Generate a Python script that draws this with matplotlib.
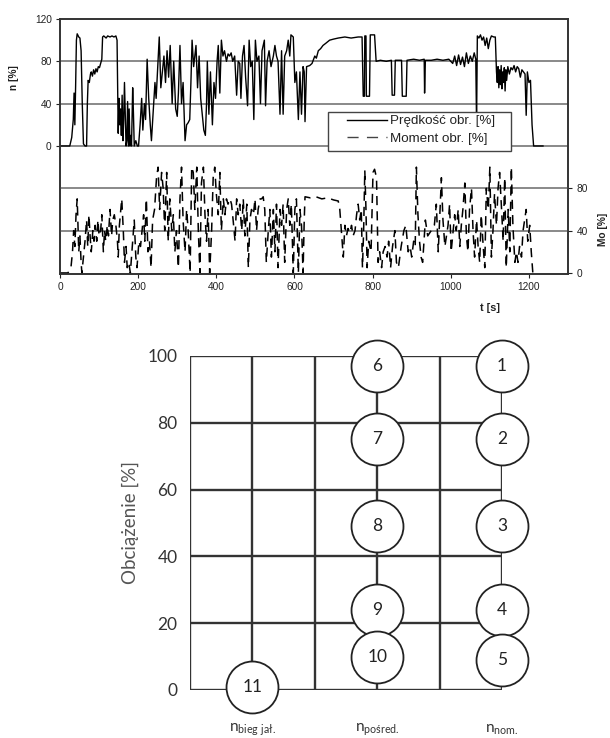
import matplotlib
matplotlib.use('Agg')
import matplotlib.pyplot as plt
from matplotlib.lines import Line2D
from matplotlib.patches import Rectangle

plt.rcParams['font.family'] = ['Liberation Sans', 'DejaVu Sans']

# --- przebieg testu: prędkość obrotowa n [%] w czasie t [s]
t_n = [0, 25, 30, 34, 36, 38, 40, 42, 44, 48, 51, 54, 57, 60, 64, 68, 70, 72, 75, 78,
       80, 83, 86, 89, 92, 95, 98, 101, 104, 107, 109, 112, 118, 122, 128, 133, 138, 143, 146, 148,
       149, 151, 153, 155, 157, 159, 161, 163, 165, 167, 169, 171, 173, 175, 177, 179, 181, 183, 186, 188,
       190, 194, 198, 201, 205, 209, 212, 216, 219, 223, 227, 231, 234, 238, 243, 246, 250, 254, 258, 262,
       266, 270, 274, 278, 282, 287, 291, 296, 300, 303, 307, 311, 315, 320, 324, 328, 332, 335, 338, 342,
       345, 348, 352, 356, 360, 364, 368, 372, 375, 377, 381, 385, 390, 394, 398, 402, 405, 409, 413, 417,
       421, 426, 430, 434, 438, 442, 447, 452, 456, 460, 463, 467, 471, 475, 480, 484, 488, 492, 496, 500,
       504, 509, 513, 517, 523, 526, 530, 535, 540, 546, 550, 554, 558, 563, 567, 571, 575, 580, 584, 588,
       591, 597, 601, 605, 610, 614, 618, 622, 625, 627, 631, 639, 645, 652, 656, 661, 667, 673, 680, 690,
       700, 712, 729, 745, 763, 773, 776, 779, 780, 783, 784, 792, 794, 805, 809, 820, 835, 848, 850, 856,
       858, 874, 876, 886, 888, 905, 920, 932, 933, 935, 950, 965, 980, 995, 1005, 1010, 1015, 1020, 1025, 1030,
       1035, 1040, 1045, 1050, 1055, 1060, 1064, 1066, 1068, 1072, 1076, 1080, 1084, 1088, 1092, 1096, 1100, 1104, 1110, 1114,
       1117, 1119, 1121, 1123, 1125, 1127, 1129, 1131, 1133, 1135, 1137, 1139, 1141, 1143, 1146, 1150, 1154, 1158, 1162, 1166,
       1170, 1174, 1178, 1182, 1186, 1190, 1193, 1196, 1200, 1204, 1208, 1212, 1236]
n_pct = [0, 0, 8, 25, 50, 20, 57, 100, 106, 103, 102, 90, 40, 2, 0, 0, 40, 62, 60, 68,
         70, 66, 72, 68, 73, 70, 75, 74, 78, 82, 103, 104, 102, 104, 103, 104, 103, 104, 100, 40,
         12, 45, 20, 35, 10, 48, 5, 25, 60, 30, 0, 5, 42, 0, 35, 0, 10, 0, 55, 30,
         0, 5, 0, 0, 20, 45, 15, 40, 25, 82, 45, 20, 5, 30, 60, 45, 75, 103, 55, 70,
         85, 60, 90, 65, 95, 40, 80, 35, 28, 50, 95, 40, 60, 5, 20, 22, 25, 60, 100, 75,
         85, 95, 55, 85, 45, 30, 15, 10, 40, 80, 30, 70, 20, 60, 45, 80, 95, 50, 100, 85,
         90, 80, 87, 85, 88, 80, 85, 48, 80, 78, 45, 85, 95, 65, 38, 100, 75, 80, 25, 100,
         80, 85, 40, 90, 100, 38, 80, 90, 75, 85, 95, 85, 80, 30, 90, 30, 85, 90, 100, 85,
         105, 103, 60, 70, 25, 70, 30, 75, 70, 23, 75, 76, 78, 85, 83, 90, 92, 95, 97, 100,
         101, 102, 103, 102, 103, 103, 47, 47, 104, 104, 47, 47, 105, 105, 80, 81, 80, 81, 48, 48,
         81, 81, 47, 47, 81, 82, 81, 82, 50, 81, 81, 82, 81, 82, 78, 85, 76, 86, 77, 84,
         75, 88, 78, 85, 80, 88, 82, 20, 104, 102, 105, 100, 103, 95, 102, 92, 100, 104, 103, 103,
         70, 60, 75, 55, 72, 58, 76, 54, 70, 60, 74, 52, 72, 62, 75, 68, 74, 72, 76, 70,
         75, 73, 65, 72, 70, 68, 29, 70, 60, 62, 20, 0, 0]

# --- moment obrotowy Mo [%]
t_mo = [0, 20, 24, 28, 32, 35, 38, 41, 44, 46, 48, 51, 54, 56, 60, 64, 68, 71, 74, 77,
        80, 84, 87, 90, 94, 97, 100, 104, 107, 111, 114, 117, 121, 124, 128, 132, 135, 139, 143, 147,
        149, 152, 158, 162, 165, 169, 172, 176, 180, 184, 190, 194, 197, 202, 206, 210, 214, 217, 221, 225,
        229, 233, 237, 242, 247, 251, 255, 260, 264, 268, 273, 277, 281, 286, 290, 294, 298, 303, 307, 311,
        315, 320, 324, 328, 333, 337, 341, 345, 350, 354, 358, 362, 367, 371, 375, 379, 383, 388, 392, 396,
        400, 405, 409, 413, 418, 422, 426, 430, 435, 439, 443, 448, 452, 456, 460, 465, 469, 473, 478, 482,
        486, 490, 495, 499, 503, 507, 512, 516, 520, 524, 528, 533, 537, 541, 546, 550, 554, 558, 563, 567,
        571, 575, 580, 584, 588, 592, 597, 601, 605, 610, 614, 618, 622, 625, 627, 640, 655, 670, 685, 700,
        712, 716, 720, 725, 729, 733, 737, 742, 746, 750, 755, 759, 763, 767, 771, 774, 777, 780, 783, 786,
        790, 796, 801, 805, 810, 814, 818, 823, 827, 832, 837, 841, 846, 851, 857, 861, 866, 873, 880, 885,
        891, 896, 900, 905, 909, 912, 916, 920, 924, 928, 935, 941, 950, 958, 963, 968, 976, 980, 985, 993,
        997, 1001, 1010, 1014, 1019, 1023, 1027, 1031, 1036, 1040, 1044, 1048, 1053, 1057, 1061, 1066, 1070, 1074, 1078, 1083,
        1087, 1091, 1096, 1100, 1104, 1108, 1112, 1117, 1121, 1125, 1130, 1134, 1138, 1142, 1147, 1151, 1155, 1159, 1164, 1168,
        1172, 1176, 1181, 1185, 1189, 1193, 1197, 1202, 1206, 1210]
mo_pct = [0, 0, 2, 5, 20, 40, 25, 55, 70, 45, 20, 35, 10, 0, 15, 30, 50, 25, 55, 35,
          20, 40, 30, 45, 30, 50, 35, 40, 55, 20, 40, 30, 45, 35, 60, 35, 50, 55, 45, 30,
          15, 45, 70, 40, 10, 25, 5, 10, 0, 20, 50, 15, 5, 30, 25, 40, 55, 30, 70, 20,
          30, 5, 50, 60, 90, 100, 60, 95, 80, 40, 95, 30, 70, 40, 55, 20, 40, 5, 70, 100,
          50, 20, 60, 40, 0, 100, 95, 60, 100, 40, 0, 85, 100, 55, 30, 60, 0, 40, 90, 100,
          75, 55, 95, 40, 70, 55, 70, 65, 70, 65, 50, 30, 70, 55, 65, 40, 70, 35, 65, 5,
          50, 60, 55, 70, 40, 60, 70, 70, 72, 60, 10, 40, 60, 15, 60, 20, 65, 5, 60, 45,
          65, 10, 60, 70, 45, 65, 0, 60, 70, 0, 60, 45, 0, 50, 72, 71, 72, 70, 71, 69,
          68, 60, 40, 15, 45, 35, 42, 38, 45, 35, 40, 55, 65, 50, 60, 5, 40, 97, 60, 5,
          30, 20, 95, 98, 90, 10, 20, 5, 20, 25, 15, 30, 5, 25, 40, 10, 5, 25, 40, 45,
          20, 25, 15, 30, 25, 100, 55, 30, 15, 10, 50, 35, 40, 45, 65, 20, 90, 50, 25, 45,
          65, 20, 55, 40, 60, 25, 45, 60, 85, 35, 20, 60, 80, 40, 15, 50, 25, 10, 55, 25,
          5, 80, 60, 100, 15, 40, 75, 45, 80, 95, 60, 30, 90, 5, 60, 20, 100, 45, 10, 20,
          10, 25, 15, 40, 50, 60, 30, 45, 20, 0]

legend_labels = ['Prędkość obr. [%]', 'Moment obr. [%]']

# --- schemat punktów pomiarowych (test 11-fazowy)
col_pos = [0, 1, 2, 3, 4, 5]
load_levels = [0, 20, 40, 60, 80, 100]
mode_x = [5, 5, 5, 5, 5, 3, 3, 3, 3, 3, 1]
mode_load = [97, 75, 49, 24, 9, 97, 75, 49, 24, 10, 1]
mode_nr = ['1', '2', '3', '4', '5', '6', '7', '8', '9', '10', '11']
speed_cols = [1, 3, 5]
speed_labels = [r'$\mathregular{n_{bieg\ jał.}}$', r'$\mathregular{n_{pośred.}}$', r'$\mathregular{n_{nom.}}$']

W, H = 610, 738
fig = plt.figure(figsize=(W / 100, H / 100), dpi=100)


def box(x0, y0, x1, y1):
    return [x0 / W, 1 - y1 / H, (x1 - x0) / W, (y1 - y0) / H]


# wykres górny
ax = fig.add_axes(box(60, 19, 568, 274))
for v in [0, 40, 80]:
    ax.axhline(v, color='#808080', lw=1.3, zorder=0)
ax.plot(t_n, n_pct, color='black', lw=1.0)
ax.set_xlim(0, 1300)
ax.set_ylim(-121, 120)
ax.set_yticks([0, 40, 80, 120])
ax.set_xticks(range(0, 1201, 200))
ax.tick_params(labelsize=7.3, length=3, colors='#222', pad=3)
for s in ax.spines.values():
    s.set_color('#333')
    s.set_linewidth(1.2)

ax2 = ax.twinx()
for v in [40, 80]:
    ax2.axhline(v, color='#808080', lw=1.3, zorder=0)
ax2.plot(t_mo, mo_pct, color='black', lw=1.1, ls=(0, (6, 4)))
ax2.set_ylim(-1, 240)
ax2.set_yticks([0, 40, 80])
ax2.tick_params(labelsize=7.3, length=3, colors='#222', pad=3)
for s in ax2.spines.values():
    s.set_color('#333')
    s.set_linewidth(1.2)

# ramka legendy i legenda bez ramki
ax2.add_patch(Rectangle((328 / W, 1 - 151 / H), 183 / W, 39 / H, transform=fig.transFigure,
                        facecolor='white', edgecolor='#444', lw=1.0, zorder=4.9, clip_on=False))
handles = [Line2D([], [], color='black', lw=1.0),
           Line2D([], [], color='#444', lw=1.0, ls=(0, (8, 6)))]
leg = ax2.legend(handles, legend_labels, loc='upper left',
                 bbox_to_anchor=(347 / W, 1 - 115 / H), bbox_transform=fig.transFigure,
                 frameon=False, fontsize=9.6, handlelength=3.0, borderpad=0,
                 labelspacing=0.4, borderaxespad=0, handletextpad=0.25)
leg.set_zorder(5)
for txt in leg.get_texts():
    txt.set_color('#222')

fig.text(14 / W, 1 - 78 / H, 'n [%]', rotation=90, ha='center', va='center',
         fontsize=7.3, fontweight='bold', color='#222')
fig.text(603 / W, 1 - 229 / H, 'Mo [%]', rotation=90, ha='center', va='center',
         fontsize=7.3, fontweight='bold', color='#222')
fig.text(490 / W, 1 - 308 / H, 't [s]', ha='center', va='center',
         fontsize=7.8, fontweight='bold', color='#222')

# wykres dolny
lato = ['Lato', 'DejaVu Sans']
ax3 = fig.add_axes(box(190, 356, 502, 690))
ax3.set_xlim(0, 5)
ax3.set_ylim(0, 100)
ax3.hlines(load_levels, 0, 5, color='#333', lw=1.7, zorder=1)
ax3.vlines(col_pos, 0, 100, color='#333', lw=1.7, zorder=1)
for s in ax3.spines.values():
    s.set_visible(False)
ax3.set_xticks([])
ax3.set_yticks(load_levels)
ax3.tick_params(length=0, pad=9, labelsize=12.5, colors='#333')
for lab in ax3.get_yticklabels():
    lab.set_family(lato)

ax3.scatter(mode_x, mode_load, s=1400, facecolor='white', edgecolor='#222',
            linewidth=1.3, zorder=3, clip_on=False)
for x, y, nr in zip(mode_x, mode_load, mode_nr):
    ax3.text(x, y, nr, ha='center', va='center', fontsize=12.5, color='#222',
             family=lato, zorder=4)

for x, lab in zip(speed_cols, speed_labels):
    ax3.text(x, -11.8, lab, ha='center', va='center', fontsize=11, color='#333', family=lato)

fig.text(130 / W, 1 - 523 / H, 'Obciążenie [%]', rotation=90, ha='center', va='center',
         fontsize=13.5, color='#555', family=lato)

fig.savefig('out.png', dpi=100)
